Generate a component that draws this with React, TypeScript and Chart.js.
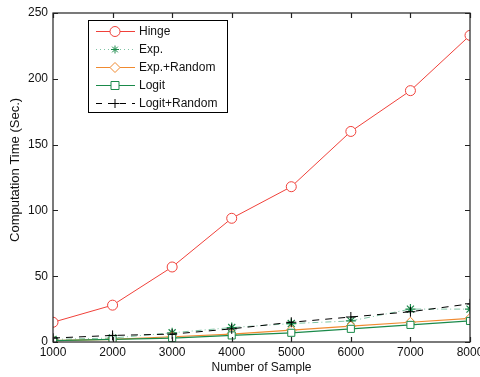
import React, { useEffect, useRef } from "react";
import { Chart, registerables } from "chart.js";

Chart.register(...registerables);

const samples = [1000, 2000, 3000, 4000, 5000, 6000, 7000, 8000];
const hinge = [15, 28, 57, 94, 118, 160, 191, 233];
const expo = [2, 3, 7, 11, 14, 16, 25, 25];
const expRandom = [1, 2, 4, 6, 9, 12, 15, 18];
const logit = [1, 2, 3, 5, 7, 10, 13, 16];
const logitRandom = [3, 5, 6, 10, 15, 19, 23, 29];
const yTicks = [0, 50, 100, 150, 200, 250];
const yTitle = "Computation Time (Sec.)";

const FONT = "'Liberation Sans', Arial, Helvetica, sans-serif";

type LegendItem = { label: string; color: string; markerColor: string; dash: number[]; marker: string };
const legendItems: LegendItem[] = [
  { label: "Hinge", color: "#f0413a", markerColor: "#f0413a", dash: [], marker: "circle" },
  { label: "Exp.", color: "#7fc4a4", markerColor: "#1a8a4a", dash: [1, 3], marker: "star" },
  { label: "Exp.+Random", color: "#f08a30", markerColor: "#f08a30", dash: [], marker: "diamond" },
  { label: "Logit", color: "#1a8a4a", markerColor: "#1a8a4a", dash: [], marker: "square" },
  { label: "Logit+Random", color: "#000000", markerColor: "#000000", dash: [6, 6], marker: "plus" },
];

function drawMarker(ctx: CanvasRenderingContext2D, kind: string, x: number, y: number, color: string) {
  ctx.save();
  ctx.strokeStyle = color;
  ctx.lineWidth = 1;
  ctx.setLineDash([]);
  ctx.beginPath();
  if (kind === "circle") {
    ctx.fillStyle = "#fff";
    ctx.arc(x, y, 5, 0, Math.PI * 2);
    ctx.fill();
    ctx.stroke();
  } else if (kind === "star") {
    const r = 4;
    for (let i = 0; i < 4; i++) {
      const a = (i * Math.PI) / 4;
      ctx.moveTo(x - r * Math.cos(a), y - r * Math.sin(a));
      ctx.lineTo(x + r * Math.cos(a), y + r * Math.sin(a));
    }
    ctx.stroke();
  } else if (kind === "diamond") {
    const r = 5;
    ctx.fillStyle = "#fff";
    ctx.moveTo(x, y - r);
    ctx.lineTo(x + r, y);
    ctx.lineTo(x, y + r);
    ctx.lineTo(x - r, y);
    ctx.closePath();
    ctx.fill();
    ctx.stroke();
  } else if (kind === "square") {
    ctx.fillStyle = "#fff";
    ctx.rect(x - 4, y - 4, 8, 8);
    ctx.fill();
    ctx.stroke();
  } else if (kind === "plus") {
    ctx.moveTo(x - 4.5, y);
    ctx.lineTo(x + 4.5, y);
    ctx.moveTo(x, y - 4.5);
    ctx.lineTo(x, y + 4.5);
    ctx.stroke();
  }
  ctx.restore();
}

const framePlugin = {
  id: "frame",
  afterDraw(chart: any) {
    const { ctx, chartArea, scales } = chart;
    const { left, right, top, bottom } = chartArea;
    const xs = scales.x;
    const ys = scales.y;
    ctx.save();
    ctx.strokeStyle = "#222";
    ctx.lineWidth = 1.2;
    ctx.setLineDash([]);
    ctx.strokeRect(left, top, right - left, bottom - top);
    const tl = 5;
    ctx.beginPath();
    for (const v of samples) {
      const px = Math.round(xs.getPixelForValue(v)) + 0.5;
      ctx.moveTo(px, bottom);
      ctx.lineTo(px, bottom - tl);
      ctx.moveTo(px, top);
      ctx.lineTo(px, top + tl);
    }
    for (const v of yTicks) {
      const py = Math.round(ys.getPixelForValue(v)) + 0.5;
      ctx.moveTo(left, py);
      ctx.lineTo(left + tl, py);
      ctx.moveTo(right, py);
      ctx.lineTo(right - tl, py);
    }
    ctx.stroke();

    // y axis title
    ctx.save();
    ctx.translate(left - 38, top + (bottom - top) * 0.477);
    ctx.rotate(-Math.PI / 2);
    ctx.font = `13px ${FONT}`;
    ctx.fillStyle = "#111";
    ctx.textAlign = "center";
    ctx.textBaseline = "middle";
    ctx.fillText(yTitle, 0, 0);
    ctx.restore();

    // legend box
    const bx = left + 35;
    const by = top + 7;
    const bw = 139;
    const bh = 92;
    ctx.fillStyle = "#fff";
    ctx.fillRect(bx, by, bw, bh);
    ctx.strokeStyle = "#000";
    ctx.lineWidth = 1;
    ctx.strokeRect(bx + 0.5, by + 0.5, bw, bh);
    ctx.font = `12px ${FONT}`;
    ctx.textBaseline = "middle";
    ctx.textAlign = "left";
    legendItems.forEach((it, i) => {
      const ry = by + 11 + i * 18;
      ctx.save();
      ctx.strokeStyle = it.color;
      ctx.lineWidth = 1;
      ctx.setLineDash(it.dash);
      ctx.beginPath();
      ctx.moveTo(bx + 8, ry + 0.5);
      ctx.lineTo(bx + 47, ry + 0.5);
      ctx.stroke();
      ctx.restore();
      drawMarker(ctx, it.marker, bx + 27, ry + 0.5, it.markerColor);
      ctx.fillStyle = "#111";
      ctx.fillText(it.label, bx + 51, ry + 1);
    });
    ctx.restore();
  },
};

export default function App() {
  const ref = useRef<HTMLCanvasElement | null>(null);
  useEffect(() => {
    if (!ref.current) return;
    const mk = (arr: number[]) => samples.map((s, i) => ({ x: s, y: arr[i] }));
    const chart = new Chart(ref.current, {
      type: "line",
      data: {
        datasets: [
          {
            label: "Hinge",
            data: mk(hinge),
            borderColor: "#f0413a",
            backgroundColor: "#fff",
            borderWidth: 1,
            pointStyle: "circle",
            pointRadius: 5,
            pointBorderWidth: 1,
            pointBackgroundColor: "#fff",
            pointBorderColor: "#f0413a",
            order: 5,
          },
          {
            label: "Exp.",
            data: mk(expo),
            borderColor: "#7fc4a4",
            borderWidth: 1,
            borderDash: [6, 3, 1, 3],
            pointStyle: "star",
            pointRadius: 5,
            pointBorderWidth: 1.2,
            pointBorderColor: "#1a8a4a",
            pointBackgroundColor: "#1a8a4a",
            order: 4,
          },
          {
            label: "Exp.+Random",
            data: mk(expRandom),
            borderColor: "#f08a30",
            borderWidth: 1.2,
            pointStyle: "rectRot",
            pointRadius: 5,
            pointBorderWidth: 1,
            pointBorderColor: "#f08a30",
            pointBackgroundColor: "#fff",
            order: 3,
          },
          {
            label: "Logit",
            data: mk(logit),
            borderColor: "#1a8a4a",
            borderWidth: 1.2,
            pointStyle: "rect",
            pointRadius: 5,
            pointBorderWidth: 1,
            pointBorderColor: "#1a8a4a",
            pointBackgroundColor: "#fff",
            order: 2,
          },
          {
            label: "Logit+Random",
            data: mk(logitRandom),
            borderColor: "#000",
            borderWidth: 1,
            borderDash: [7, 6],
            pointStyle: "cross",
            pointRadius: 5,
            pointBorderWidth: 1,
            pointBorderColor: "#000",
            order: 1,
          },
        ],
      },
      options: {
        animation: false,
        responsive: false,
        maintainAspectRatio: false,
        layout: { padding: { left: 0, right: 10, top: 13, bottom: 0 } },
        plugins: { legend: { display: false }, tooltip: { enabled: false } },
        scales: {
          x: {
            type: "linear",
            min: 1000,
            max: 8000,
            afterBuildTicks: (s: any) => {
              s.ticks = samples.map((v) => ({ value: v }));
            },
            afterFit: (s: any) => {
              s.height = 35;
              s.paddingLeft = 0;
              s.paddingRight = 0;
            },
            grid: { display: false, drawTicks: false },
            border: { display: false },
            ticks: {
              color: "#111",
              font: { family: FONT, size: 12 },
              padding: 3,
              maxRotation: 0,
              autoSkip: false,
              callback: (v: any) => String(v),
            },
            title: {
              display: true,
              text: "Number of Sample",
              color: "#111",
              font: { family: FONT, size: 12 },
              padding: { top: 0, bottom: 2 },
            },
          },
          y: {
            type: "linear",
            min: 0,
            max: 250,
            afterBuildTicks: (s: any) => {
              s.ticks = yTicks.map((v) => ({ value: v }));
            },
            afterFit: (s: any) => {
              s.width = 53;
              s.paddingTop = 0;
              s.paddingBottom = 0;
            },
            grid: { display: false, drawTicks: false },
            border: { display: false },
            ticks: {
              color: "#111",
              font: { family: FONT, size: 12 },
              padding: 5,
              autoSkip: false,
            },
            title: { display: false },
          },
        },
      },
      plugins: [framePlugin],
    } as any);
    return () => chart.destroy();
  }, []);
  return (
    <div style={{ position: "fixed", left: 0, top: 0, width: 480, height: 377, background: "#fff" }}>
      <canvas ref={ref} width={480} height={377} style={{ width: 480, height: 377, display: "block" }} />
    </div>
  );
}
